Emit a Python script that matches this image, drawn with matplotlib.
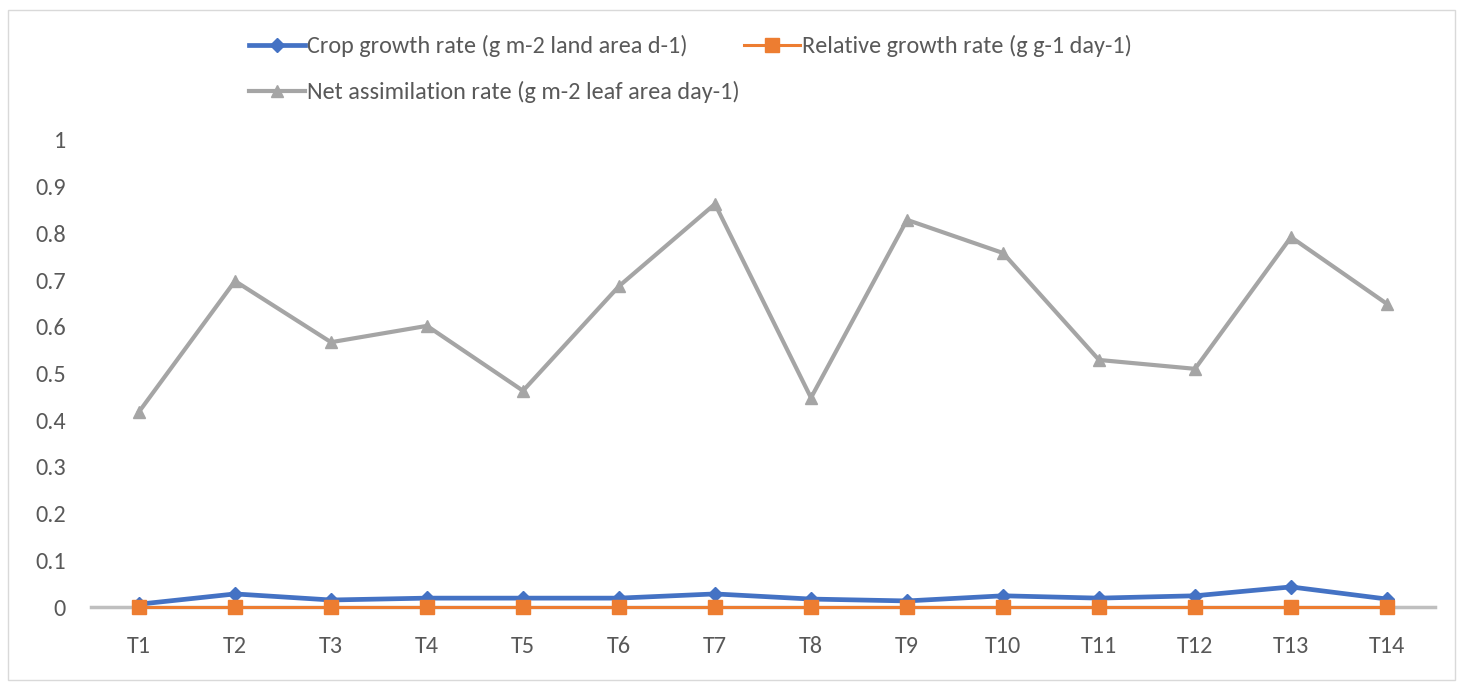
import matplotlib
matplotlib.use("Agg")
import matplotlib.pyplot as plt
from matplotlib.patches import Rectangle
import matplotlib.font_manager as fm

categories = ["T1", "T2", "T3", "T4", "T5", "T6", "T7", "T8", "T9", "T10", "T11", "T12", "T13", "T14"]
cgr = [0.006, 0.028, 0.015, 0.019, 0.019, 0.019, 0.028, 0.017, 0.013, 0.024, 0.019, 0.024, 0.043, 0.017]
rgr = [0.001] * 14
nar = [0.418, 0.698, 0.567, 0.602, 0.463, 0.687, 0.863, 0.448, 0.829, 0.758, 0.529, 0.510, 0.792, 0.649]
yticks = [0, 0.1, 0.2, 0.3, 0.4, 0.5, 0.6, 0.7, 0.8, 0.9, 1]
ytick_labels = ["0", "0.1", "0.2", "0.3", "0.4", "0.5", "0.6", "0.7", "0.8", "0.9", "1"]

names = {f.name for f in fm.fontManager.ttflist}
fam = [f for f in ["Carlito", "Liberation Sans Narrow", "Liberation Sans"] if f in names] + ["DejaVu Sans"]
plt.rcParams['font.family'] = fam[:1] + ["DejaVu Sans"]

W, H = 1461, 685
fig = plt.figure(figsize=(W / 100, H / 100), dpi=100)
ax = fig.add_axes([91 / W, 1 - 607 / H, (1435 - 91) / W, (607 - 140) / H])

x = list(range(1, len(categories) + 1))
BLUE = "#4472C4"
ORANGE = "#ED7D31"
GRAY = "#A5A5A5"
TXT = "#595959"
FS = 17.5

l3, = ax.plot(x, nar, color=GRAY, lw=3.0, marker="^", ms=8.5, label="Net assimilation rate (g m-2 leaf area day-1)", zorder=3)
l1, = ax.plot(x, cgr, color=BLUE, lw=3.4, marker="D", ms=7.5, label="Crop growth rate (g m-2 land area d-1)", zorder=4)
l2, = ax.plot(x, rgr, color=ORANGE, lw=2.2, marker="s", ms=10.5, label="Relative growth rate (g g-1 day-1)", zorder=5)

ax.set_xlim(0.5, 14.5)
ax.set_ylim(0, 1)
ax.set_xticks(x)
ax.set_xticklabels(categories)
ax.set_yticks(yticks)
ax.set_yticklabels(ytick_labels)
for s in ["top", "right", "left"]:
    ax.spines[s].set_visible(False)
ax.spines["bottom"].set_color("#BFBFBF")
ax.spines["bottom"].set_linewidth(2.5)
ax.spines["bottom"].set_zorder(1)
ax.tick_params(axis="both", length=0, labelsize=FS, labelcolor=TXT)
ax.tick_params(axis="x", pad=21)
ax.tick_params(axis="y", pad=18)
for ln in (l1, l2, l3):
    ln.set_clip_on(False)

common = dict(frameon=False, fontsize=FS, labelcolor=TXT, handlelength=2.3, handletextpad=0.1,
              borderaxespad=0, borderpad=0)
leg1 = fig.legend(handles=[l1, l2], loc="upper left", bbox_to_anchor=(249 / W, 1 - 35 / H), ncol=2,
                  columnspacing=2.3, **common)
leg2 = fig.legend(handles=[l3], loc="upper left", bbox_to_anchor=(249 / W, 1 - 81 / H), **common)

fig.patches.append(Rectangle((8 / W, 1 - 680 / H), (1455 - 8) / W, (680 - 10) / H, transform=fig.transFigure,
                             fill=False, edgecolor="#D9D9D9", lw=1))

fig.savefig("out.png", dpi=100)
